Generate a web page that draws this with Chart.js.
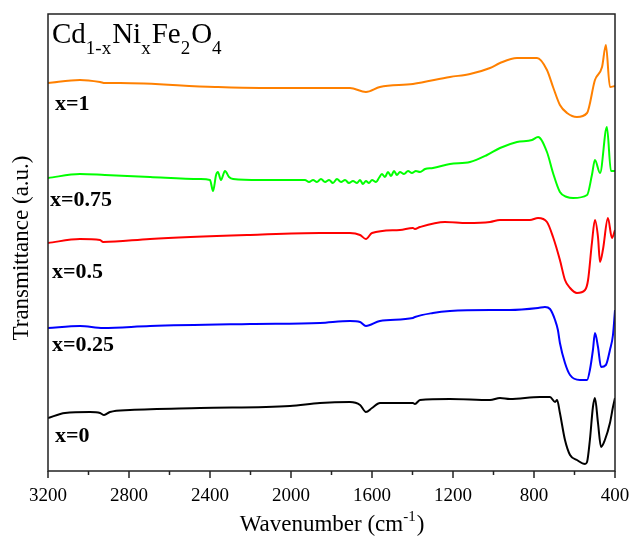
<!DOCTYPE html>
<html lang="en">
<head>
    <meta charset="UTF-8">
    <title>FTIR spectra Cd1-xNixFe2O4</title>
    <script src="https://cdn.jsdelivr.net/npm/chart.js"></script>
    <style>
        body { margin: 0; background: #fff; }
        #wrap { width: 632px; height: 538px; }
    </style>
</head>
<body>
    <div id="wrap"><canvas id="ftir" width="632" height="538"></canvas></div>

    <script>
        // tick labels of the wavenumber axis
        const xTicks = [3200, 2800, 2400, 2000, 1600, 1200, 800, 400];
        const seriesNames = ["x=1", "x=0.75", "x=0.5", "x=0.25", "x=0"];

        // x=1 (orange)
        const wnOrange = [3200, 3042, 2943, 2919, 2844, 2375, 2153, 1956, 1709, 1630, 1561, 1398, 1215, 1116, 1017, 968, 884, 785, 736, 706, 672, 637, 588, 538, 499, 464, 445, 425, 400];
        const tOrange  = [388, 391, 389, 388, 388, 384, 383, 383, 383, 379, 384, 387, 394, 397, 403, 408, 413, 413, 401, 384, 366, 358, 354, 358, 391, 404, 426, 384, 385];

        // x=0.75 (green)
        const wnGreen = [3200, 3042, 2919, 2696, 2449, 2400, 2385, 2370, 2361, 2346, 2326, 2306, 2286, 2153, 1956,
                         1931, 1911, 1891, 1872, 1852, 1832, 1812, 1793, 1773, 1753, 1733, 1714, 1694, 1674, 1659, 1645, 1630, 1615, 1600, 1580, 1566,
                         1551, 1536, 1521, 1506, 1491, 1477, 1462, 1442, 1422, 1403, 1383, 1363, 1338,
                         1299, 1215, 1116, 1032, 968, 884, 810, 780, 736, 706, 672, 637, 607, 538, 514, 499, 474, 440, 420, 400];
        const tGreen  = [293, 297, 296, 294, 292, 291, 280, 296, 299, 291, 300, 294, 292, 291, 291,
                         291, 289, 291, 289, 292, 289, 291, 288, 292, 289, 291, 288, 290, 288, 291, 287, 290, 288, 291, 289, 293,
                         297, 294, 299, 295, 300, 296, 299, 297, 300, 298, 300, 299, 302,
                         303, 307, 309, 316, 323, 329, 331, 334, 319, 298, 279, 274, 273, 276, 296, 311, 298, 344, 300, 300];

        // x=0.5 (red)
        const wnRed = [3200, 3042, 2943, 2928, 2696, 2202, 1857, 1709, 1659, 1630, 1600, 1462, 1398, 1388, 1363, 1240, 1131, 1017, 968, 820, 780, 736, 706, 672, 647, 622, 588, 548, 533, 514, 499, 484, 474, 459, 435, 415, 400];
        const tRed  = [228, 232, 231, 229, 232, 236, 238, 238, 236, 232, 238, 241, 243, 242, 244, 249, 248, 249, 251, 251, 253, 249, 234, 211, 191, 183, 178, 181, 191, 228, 251, 234, 209, 222, 253, 233, 241];

        // x=0.25 (blue)
        const wnBlue = [3200, 3042, 2928, 2696, 2202, 1857, 1709, 1659, 1630, 1561, 1398, 1388, 1299, 1215, 1017, 919, 780, 746, 721, 696, 682, 672, 647, 622, 573, 538, 524, 509, 499, 484, 469, 445, 425, 410, 400];
        const tBlue  = [143, 145, 143, 145, 147, 148, 150, 149, 145, 150, 153, 154, 158, 160, 161, 161, 163, 164, 162, 151, 141, 128, 108, 96, 91, 91, 101, 121, 138, 124, 104, 106, 121, 136, 161];

        // x=0 (black)
        const wnBlack = [3200, 3116, 2993, 2943, 2923, 2894, 2795, 2449, 2005, 1857, 1709, 1659, 1630, 1600, 1561, 1398, 1388, 1363, 1215, 1017, 968, 919, 770, 721, 696, 686, 672, 647, 622, 588, 548, 538, 524, 509, 499, 484, 469, 450, 425, 410, 400];
        const tBlack  = [53, 58, 59, 58, 56, 59, 61, 63, 65, 68, 69, 66, 59, 63, 68, 68, 67, 71, 72, 71, 73, 72, 74, 74, 69, 71, 58, 31, 16, 11, 7, 9, 31, 64, 73, 48, 24, 31, 48, 64, 73];

        function toPoints(xs, ys) {
            return xs.map((x, i) => ({ x: x, y: ys[i] }));
        }

        function makeSet(label, xs, ys, color) {
            return {
                label: label,
                data: toPoints(xs, ys),
                borderColor: color,
                borderWidth: 2,
                pointRadius: 0,
                fill: false,
                cubicInterpolationMode: "monotone"
            };
        }

        const serif = "'Liberation Serif', 'Times New Roman', serif";

        // frame, tick marks + labels, title, series labels and axis titles
        const decorations = {
            id: "decorations",
            afterDraw(chart) {
                const ctx = chart.ctx;
                const area = chart.chartArea;
                const xs = chart.scales.x;
                ctx.save();

                // frame
                ctx.strokeStyle = "#222";
                ctx.lineWidth = 1.5;
                ctx.strokeRect(area.left, area.top, area.right - area.left, area.bottom - area.top);

                // tick marks (outward)
                for (let w = 400; w <= 3200; w += 200) {
                    const px = xs.getPixelForValue(w);
                    const len = (w % 400 === 0) ? 7 : 4;
                    ctx.beginPath();
                    ctx.moveTo(px, area.bottom);
                    ctx.lineTo(px, area.bottom + len);
                    ctx.stroke();
                }

                ctx.fillStyle = "#000";

                // tick labels
                ctx.font = "19px " + serif;
                ctx.textAlign = "center";
                ctx.textBaseline = "middle";
                xTicks.forEach(v => ctx.fillText(String(v), xs.getPixelForValue(v), 496));

                ctx.textBaseline = "alphabetic";
                ctx.textAlign = "left";

                // formula with subscripts
                const parts = [["Cd", 0], ["1-x", 1], ["Ni", 0], ["x", 1], ["Fe", 0], ["2", 1], ["O", 0], ["4", 1]];
                let cx = 52;
                parts.forEach(p => {
                    ctx.font = p[1] ? "19px " + serif : "29px " + serif;
                    ctx.fillText(p[0], cx, p[1] ? 54 : 43);
                    cx += ctx.measureText(p[0]).width + (p[1] ? 1 : 0);
                });

                // series labels
                ctx.font = "bold 22px " + serif;
                ctx.textBaseline = "middle";
                const labelPos = [[55, 104], [50, 200], [52, 272], [52, 345], [55, 436]];
                seriesNames.forEach((s, i) => ctx.fillText(s, labelPos[i][0], labelPos[i][1]));

                // y title
                ctx.save();
                ctx.translate(22, 248);
                ctx.rotate(-Math.PI / 2);
                ctx.textAlign = "center";
                ctx.font = "23px " + serif;
                ctx.fillText("Transmittance (a.u.)", 0, 0);
                ctx.restore();

                // x title with superscript
                ctx.textBaseline = "alphabetic";
                ctx.font = "23px " + serif;
                const t1 = "Wavenumber (cm";
                const w1 = ctx.measureText(t1).width;
                ctx.font = "15px " + serif;
                const w2 = ctx.measureText("-1").width;
                ctx.font = "23px " + serif;
                const w3 = ctx.measureText(")").width;
                let tx = (area.left + area.right) / 2 - (w1 + w2 + w3) / 2;
                const base = 531;
                ctx.fillText(t1, tx, base);
                ctx.font = "15px " + serif;
                ctx.fillText("-1", tx + w1, base - 10);
                ctx.font = "23px " + serif;
                ctx.fillText(")", tx + w1 + w2 + 1, base);

                ctx.restore();
            }
        };

        new Chart(document.getElementById("ftir").getContext("2d"), {
            type: "line",
            data: {
                datasets: [
                    makeSet(seriesNames[0], wnOrange, tOrange, "#FF8000"),
                    makeSet(seriesNames[1], wnGreen, tGreen, "#00FF00"),
                    makeSet(seriesNames[2], wnRed, tRed, "#FF0000"),
                    makeSet(seriesNames[3], wnBlue, tBlue, "#0000FF"),
                    makeSet(seriesNames[4], wnBlack, tBlack, "#000000")
                ]
            },
            options: {
                responsive: false,
                animation: false,
                layout: { padding: { left: 48, right: 17, top: 14, bottom: 67 } },
                plugins: { legend: { display: false }, tooltip: { enabled: false } },
                scales: {
                    x: {
                        type: "linear",
                        reverse: true,
                        min: 400,
                        max: 3200,
                        grid: { display: false, drawTicks: false },
                        border: { display: false },
                        ticks: { display: false }
                    },
                    y: {
                        display: false,
                        min: 0,
                        max: 457
                    }
                }
            },
            plugins: [decorations]
        });
    </script>
</body>
</html>
